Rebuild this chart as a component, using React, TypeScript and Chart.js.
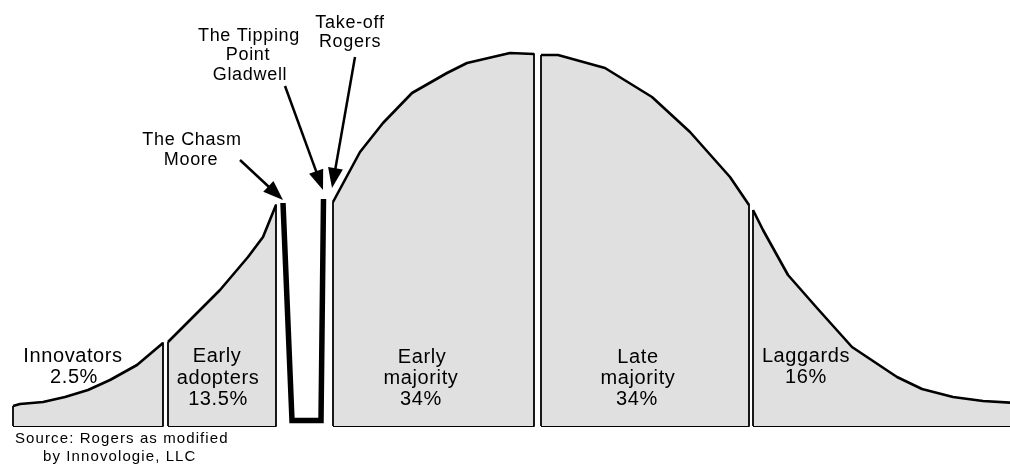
import React, { useEffect, useRef } from 'react';
import { Chart, registerables } from 'chart.js';

Chart.register(...registerables);

// Curve segments: x position and height above the baseline
const innovatorsX = [13, 13, 20, 43, 65, 88, 110, 137, 163, 163];
const innovatorsH = [0, 20, 22, 24, 29, 36, 46, 61, 83, 0];

const earlyAdoptersX = [168, 168, 193, 220, 248, 263, 276, 276];
const earlyAdoptersH = [0, 84, 109, 136, 169, 189, 221, 0];

const earlyMajorityX = [333, 333, 360, 383, 412, 447, 467, 510, 534, 534];
const earlyMajorityH = [0, 224, 274, 303, 333, 353, 363, 373, 372, 0];

const lateMajorityX = [541, 541, 558, 605, 652, 690, 730, 749, 749];
const lateMajorityH = [0, 371, 371, 358, 329, 294, 249, 221, 0];

const laggardsX = [753, 753, 763, 788, 817, 852, 897, 922, 953, 983, 1016, 1016];
const laggardsH = [0, 216, 196, 151, 118, 79, 49, 37, 29, 25, 23, 0];

const chasmX = [283, 292, 321, 323.5];
const chasmH = [223, 5.5, 5.5, 227];

// Segment labels
const segmentLines = ['Innovators', '2.5%', 'Early', 'adopters', '13.5%', 'Early', 'majority', '34%', 'Late', 'majority', '34%', 'Laggards', '16%'];
const segmentLineX = [73, 74, 217, 218, 218, 422, 421, 421, 638, 638, 637, 806, 806];
const segmentLineY = [64, 43, 64, 42, 21, 63, 42, 21, 63, 42, 21, 64, 43];

// Callout labels
const calloutLines = ['The Chasm', 'Moore', 'The Tipping', 'Point', 'Gladwell', 'Take-off', 'Rogers'];
const calloutLineX = [192, 191, 249, 248, 250, 350, 350];
const calloutLineY = [281, 261, 385, 366, 346, 398, 379];

// Arrows (from -> tip)
const arrowFromX = [240, 285, 355];
const arrowFromY = [266, 340, 369];
const arrowTipX = [283, 323, 332];
const arrowTipY = [226, 236, 238];

// Source note
const sourceLines = ['Source: Rogers as modified', 'by Innovologie, LLC'];
const sourceLineX = [15, 43];
const sourceLineY = [-17, -35];

const FILL = '#e0e0e0';
const FONT = '"Liberation Sans", Arial, Helvetica, sans-serif';

const pts = (xs: number[], ys: number[]) => xs.map((x, i) => ({ x, y: ys[i] }));

const segs = [
  [innovatorsX, innovatorsH],
  [earlyAdoptersX, earlyAdoptersH],
  [earlyMajorityX, earlyMajorityH],
  [lateMajorityX, lateMajorityH],
  [laggardsX, laggardsH],
];

export default function App() {
  const ref = useRef<HTMLCanvasElement | null>(null);

  useEffect(() => {
    if (!ref.current) return;

    const baseline: any[] = [];
    segs.forEach(([xs]) => {
      baseline.push({ x: xs[0], y: 0 });
      baseline.push({ x: xs[xs.length - 1], y: 0 });
      baseline.push({ x: xs[xs.length - 1] + 0.5, y: null });
    });

    const curveDatasets = segs.map(([xs, hs]) => ({
      data: pts(xs, hs),
      fill: 'origin',
      backgroundColor: FILL,
      borderColor: '#000',
      borderWidth: 2.6,
      tension: 0,
      pointRadius: 0,
      borderJoinStyle: 'round' as const,
      segment: {
        borderWidth: (c: any) => (c.p0.parsed.x === c.p1.parsed.x ? 1.8 : 2.6),
      },
    }));

    const annotations = {
      id: 'annotations',
      afterDatasetsDraw(chart: any) {
        const { ctx } = chart;
        const sx = chart.scales.x;
        const sy = chart.scales.y;
        ctx.save();
        ctx.fillStyle = '#000';
        ctx.strokeStyle = '#000';
        // arrows
        for (let i = 0; i < arrowFromX.length; i++) {
          const x0 = sx.getPixelForValue(arrowFromX[i]);
          const y0 = sy.getPixelForValue(arrowFromY[i]);
          const x1 = sx.getPixelForValue(arrowTipX[i]);
          const y1 = sy.getPixelForValue(arrowTipY[i]);
          const a = Math.atan2(y1 - y0, x1 - x0);
          const len = 20;
          const hw = 7.5;
          const bx = x1 - len * Math.cos(a);
          const by = y1 - len * Math.sin(a);
          ctx.lineWidth = 2.5;
          ctx.beginPath();
          ctx.moveTo(x0, y0);
          ctx.lineTo(bx + 2 * Math.cos(a), by + 2 * Math.sin(a));
          ctx.stroke();
          ctx.beginPath();
          ctx.moveTo(x1, y1);
          ctx.lineTo(bx + hw * Math.sin(a), by - hw * Math.cos(a));
          ctx.lineTo(bx - hw * Math.sin(a), by + hw * Math.cos(a));
          ctx.closePath();
          ctx.fill();
        }
        // text
        ctx.textBaseline = 'alphabetic';
        ctx.textAlign = 'center';
        ctx.font = `20px ${FONT}`;
        (ctx as any).letterSpacing = '0.6px';
        segmentLines.forEach((t, i) => {
          ctx.fillText(t, sx.getPixelForValue(segmentLineX[i]), sy.getPixelForValue(segmentLineY[i]));
        });
        ctx.font = `18px ${FONT}`;
        (ctx as any).letterSpacing = '0.7px';
        calloutLines.forEach((t, i) => {
          ctx.fillText(t, sx.getPixelForValue(calloutLineX[i]), sy.getPixelForValue(calloutLineY[i]));
        });
        ctx.textAlign = 'left';
        ctx.font = `15px ${FONT}`;
        (ctx as any).letterSpacing = '1.1px';
        sourceLines.forEach((t, i) => {
          ctx.fillText(t, sx.getPixelForValue(sourceLineX[i]), sy.getPixelForValue(sourceLineY[i]));
        });
        ctx.restore();
      },
    };

    const chart = new Chart(ref.current, {
      type: 'line',
      data: {
        datasets: [
          ...curveDatasets,
          {
            data: baseline,
            fill: false,
            borderColor: '#000',
            borderWidth: 2,
            pointRadius: 0,
            spanGaps: false,
          },
          {
            data: pts(chasmX, chasmH),
            fill: false,
            borderColor: '#000',
            borderWidth: 5.5,
            pointRadius: 0,
            tension: 0,
            borderJoinStyle: 'miter',
          },
        ] as any,
      },
      options: {
        animation: false,
        responsive: false,
        maintainAspectRatio: false,
        devicePixelRatio: 1,
        layout: { padding: 0 },
        plugins: { legend: { display: false }, tooltip: { enabled: false } },
        events: [],
        scales: {
          x: { type: 'linear', min: 0, max: 1010, display: false },
          y: { type: 'linear', min: -40, max: 426, display: false },
        },
      },
      plugins: [annotations],
    });

    return () => chart.destroy();
  }, []);

  return (
    <div style={{ position: 'absolute', left: 0, top: 0, width: 1010, height: 466, background: '#fff' }}>
      <canvas ref={ref} width={1010} height={466} style={{ width: 1010, height: 466, display: 'block' }} />
    </div>
  );
}
